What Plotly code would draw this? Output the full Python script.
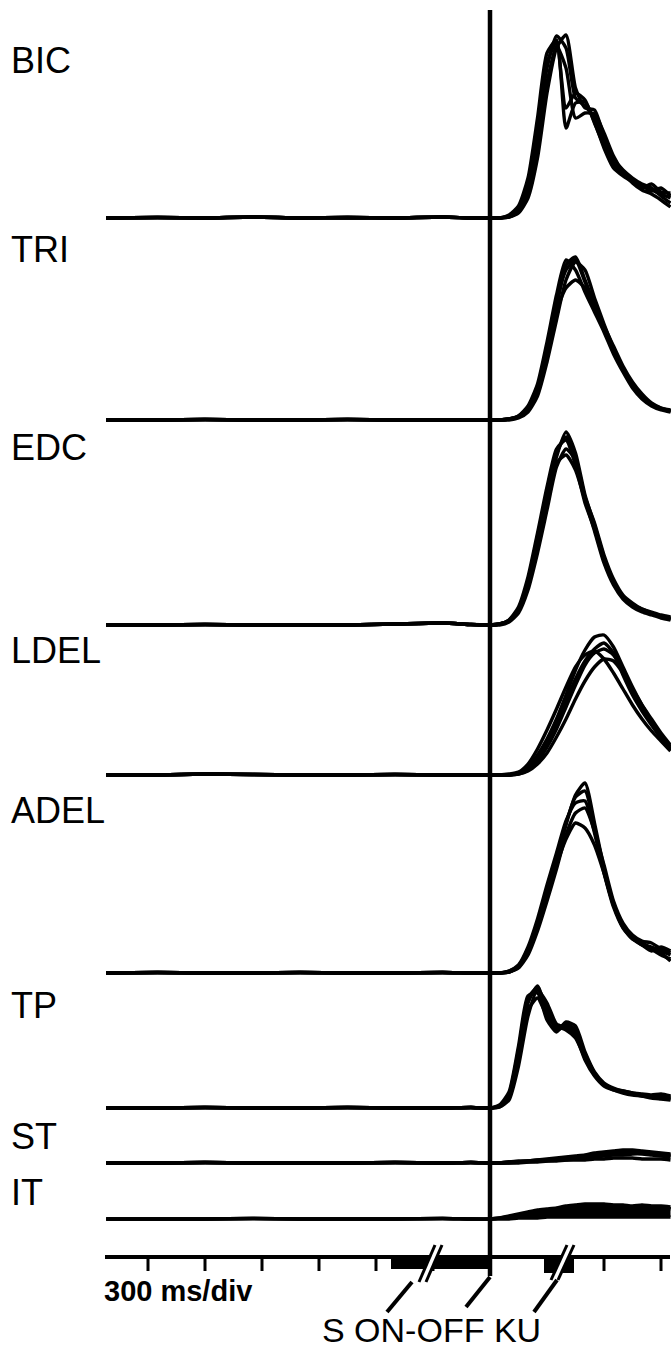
import plotly.graph_objects as go

# ---------------- data ----------------
muscles = ["BIC", "TRI", "EDC", "LDEL", "ADEL", "TP", "ST", "IT"]

# time samples (ms, 0 = ON-OFF)
pre_ms = [-2020, -1750, -1500, -1250, -1000, -750, -500, -250, -100]
post_ms = [0, 50, 100, 150, 200, 250, 300, 350, 400, 450,
           500, 550, 600, 650, 700, 750, 800, 850, 900, 950]

# rectified EMG envelopes (arbitrary units), several superimposed trials
bic_pre = [0, 0.5, 0, 1, 0, 0.5, 0, 1, 0]
bic_trials = [
    [0, 0, 2, 8, 30, 85, 150, 182, 170, 120, 112, 100, 75, 55, 45, 38, 33, 28, 24, 20],
    [0, 0, 1, 5, 20, 60, 125, 170, 183, 130, 110, 108, 82, 60, 48, 40, 34, 30, 22, 15],
    [0, 0, 3, 12, 40, 100, 165, 178, 90, 115, 116, 96, 70, 50, 42, 36, 30, 34, 26, 25],
    [0, 0, 1, 6, 24, 70, 135, 172, 150, 100, 105, 104, 85, 62, 46, 35, 28, 24, 18, 11],
    [0, 0, 2, 9, 32, 90, 155, 176, 110, 125, 118, 95, 72, 52, 44, 38, 32, 27, 30, 22],
]
tri_pre = [0, 0, 0.5, 0, 0, 0.5, 0, 0, 0]
tri_trials = [
    [0, 0, 1, 3, 10, 28, 65, 112, 155, 163, 140, 115, 92, 70, 50, 34, 22, 15, 11, 9],
    [0, 0, 1, 4, 14, 36, 78, 125, 160, 150, 128, 108, 88, 66, 48, 32, 21, 14, 10, 8],
    [0, 0, 0, 2, 8, 24, 58, 100, 140, 158, 150, 122, 96, 72, 52, 36, 24, 16, 12, 10],
    [0, 0, 1, 3, 11, 30, 68, 108, 132, 140, 132, 112, 92, 70, 50, 34, 22, 15, 11, 9],
    [0, 0, 1, 4, 12, 32, 72, 118, 150, 160, 138, 116, 94, 74, 54, 38, 26, 17, 12, 9],
]
edc_pre = [0, 0, 0.5, 0, 0, 0, 1, 2, 0.5]
edc_trials = [
    [0, 1, 4, 15, 40, 80, 125, 168, 193, 172, 130, 100, 68, 44, 28, 20, 15, 12, 8, 6],
    [0, 1, 5, 18, 48, 92, 138, 176, 185, 160, 122, 96, 64, 42, 27, 19, 14, 11, 8, 6],
    [0, 0, 3, 12, 35, 72, 115, 158, 176, 165, 128, 102, 70, 46, 30, 22, 16, 13, 10, 8],
    [0, 1, 4, 14, 42, 85, 130, 162, 170, 155, 125, 98, 66, 43, 28, 20, 16, 12, 9, 7],
    [0, 1, 5, 16, 44, 88, 134, 172, 188, 168, 126, 94, 62, 40, 26, 18, 13, 10, 7, 5],
]
ldel_pre = [0, 0, 1, 0.5, 0, 0, 0.5, 0, 0]
ldel_trials = [
    [0, 0, 0, 2, 8, 20, 36, 56, 80, 105, 125, 138, 140, 128, 108, 88, 70, 54, 40, 28],
    [0, 0, 0, 1, 5, 14, 28, 46, 68, 90, 110, 122, 126, 120, 104, 86, 68, 52, 38, 26],
    [0, 0, 1, 3, 11, 26, 45, 66, 88, 108, 120, 124, 116, 102, 86, 70, 56, 44, 34, 24],
    [0, 0, 0, 1, 4, 11, 22, 38, 56, 76, 94, 108, 116, 114, 102, 86, 70, 56, 42, 30],
    [0, 0, 0, 2, 7, 18, 33, 52, 74, 96, 114, 126, 132, 122, 100, 80, 64, 50, 37, 26],
]
adel_pre = [0, 0.5, 0, 0, 0.5, 0, 0, 0.5, 0]
adel_trials = [
    [0, 0, 1, 6, 22, 48, 80, 112, 148, 178, 190, 150, 105, 70, 48, 36, 28, 26, 22, 18],
    [0, 0, 2, 8, 26, 54, 88, 120, 152, 170, 172, 140, 100, 66, 45, 34, 30, 24, 18, 14],
    [0, 0, 1, 5, 18, 42, 72, 104, 138, 160, 165, 142, 108, 72, 50, 38, 32, 30, 24, 20],
    [0, 0, 1, 6, 20, 46, 78, 108, 134, 150, 145, 128, 100, 68, 46, 34, 28, 22, 26, 22],
    [0, 0, 2, 7, 24, 50, 84, 116, 150, 176, 182, 146, 102, 68, 46, 35, 30, 25, 20, 12],
]
tp_pre = [0, 0, 0.5, 0, 0, 0.5, 0, 0, 0.5]
tp_trials = [
    [0, 2, 12, 55, 105, 122, 95, 80, 84, 78, 52, 34, 24, 19, 16, 14, 13, 12, 11, 10],
    [0, 1, 8, 42, 92, 118, 105, 84, 80, 72, 48, 32, 22, 18, 15, 13, 12, 10, 9, 8],
    [0, 3, 16, 62, 112, 115, 88, 76, 86, 82, 56, 36, 25, 20, 17, 15, 14, 13, 14, 12],
    [0, 1, 10, 48, 98, 110, 92, 82, 78, 70, 50, 33, 23, 18, 16, 14, 12, 11, 10, 9],
    [0, 2, 14, 58, 110, 120, 100, 78, 82, 76, 54, 35, 24, 19, 17, 15, 13, 12, 12, 11],
]
st_pre = [0, 0, 0.5, 0, 0, 0, 0.5, 0, 0.5]
st_trials = [
    [0, 0, 1, 1, 2, 3, 3, 4, 5, 6, 7, 8, 10, 11, 12, 12, 11, 10, 9, 8],
    [0, 0, 0, 1, 1, 2, 2, 3, 3, 4, 5, 6, 7, 8, 8, 9, 9, 8, 7, 6],
    [0, 0, 1, 2, 2, 3, 4, 5, 6, 7, 8, 10, 11, 12, 13, 13, 12, 11, 10, 9],
    [0, 0, 0, 0, 1, 1, 2, 2, 3, 3, 3, 4, 4, 5, 5, 5, 4, 4, 4, 3],
    [0, 0, 1, 1, 2, 2, 3, 3, 4, 5, 6, 7, 8, 9, 10, 10, 10, 9, 8, 7],
]
it_pre = [0, 0, 0, 0.5, 0, 0, 0, 0.5, 0]
it_trials = [
    [0, 0, 0, 1, 1, 1, 2, 2, 2, 2, 2, 2, 2, 2, 2, 2, 2, 2, 2, 2],
    [0, 1, 3, 5, 7, 9, 10, 11, 13, 14, 15, 15, 15, 14, 14, 13, 14, 13, 13, 12],
    [0, 1, 2, 4, 5, 7, 8, 9, 10, 11, 12, 12, 12, 11, 12, 11, 11, 10, 11, 10],
]

pre_values = [bic_pre, tri_pre, edc_pre, ldel_pre, adel_pre, tp_pre, st_pre, it_pre]
trial_values = [bic_trials, tri_trials, edc_trials, ldel_trials, adel_trials,
                tp_trials, st_trials, it_trials]

tick_ms = [-1800, -1500, -1200, -900, -600, -300, 0, 300, 600, 900]
event_text = "S ON-OFF KU"
scale_text = "300 ms/div"

# ---------------- layout (pixel geometry of the panel) ----------------
W, H = 671, 1351
ZERO_PX = 490.0          # x pixel of the ON-OFF line
PX_PER_DIV = 57.0        # 300 ms per division
MS_PER_DIV = 300.0


def xms(px):
    return (px - ZERO_PX) * MS_PER_DIV / PX_PER_DIV


def yv(py):
    return H - py


baseline_py = [218, 420, 625, 775, 973, 1108, 1163, 1219]
label_py = [60, 249, 447, 650, 810, 1005, 1136, 1192]
AXIS_PY = 1257
FONT = "Liberation Sans, Arial, Helvetica, sans-serif"

fig = go.Figure()

x_all = pre_ms + post_ms
for m, pre, trials, base in zip(muscles, pre_values, trial_values, baseline_py):
    off = yv(base)
    for k, tr in enumerate(trials):
        ys = [off + v for v in pre + tr]
        fill = "tonexty" if (m == "IT" and k > 0) else None
        fig.add_trace(go.Scatter(
            x=x_all, y=ys, mode="lines",
            line=dict(color="black", width=3.4, shape="spline", smoothing=0.6),
            fill=fill, fillcolor="black",
            hoverinfo="skip", showlegend=False, name=m))

shapes = []
# time axis
shapes.append(dict(type="line", x0=xms(105), x1=xms(670), y0=yv(AXIS_PY), y1=yv(AXIS_PY),
                   line=dict(color="black", width=4)))
for t in tick_ms:
    shapes.append(dict(type="line", x0=t, x1=t, y0=yv(AXIS_PY), y1=yv(AXIS_PY + 14),
                       line=dict(color="black", width=3)))
# event bars under the axis
shapes.append(dict(type="rect", x0=xms(391), x1=0, y0=yv(AXIS_PY), y1=yv(AXIS_PY + 12),
                   fillcolor="black", line=dict(width=0)))
shapes.append(dict(type="rect", x0=xms(544), x1=xms(574), y0=yv(AXIS_PY), y1=yv(AXIS_PY + 16),
                   fillcolor="black", line=dict(width=0)))
# ON-OFF vertical line
shapes.append(dict(type="line", x0=0, x1=0, y0=yv(10), y1=yv(1276),
                   line=dict(color="black", width=4.5)))
# axis breaks (//)
for (bx, by0, by1) in [(420, 1282, 1245), (552, 1280, 1245)]:
    dx = 16
    shapes.append(dict(type="line", x0=xms(bx + 3), x1=xms(bx + 3 + dx), y0=yv(by0), y1=yv(by1),
                       line=dict(color="white", width=6)))
    for o in (0, 7):
        shapes.append(dict(type="line", x0=xms(bx - 1 + o), x1=xms(bx - 1 + o + dx),
                           y0=yv(by0), y1=yv(by1), line=dict(color="black", width=3)))
# pointers to the event labels
for (x0, y0, x1, y1) in [(412, 1282, 387, 1312), (490, 1277, 466, 1307), (557, 1280, 534, 1312)]:
    shapes.append(dict(type="line", x0=xms(x0), x1=xms(x1), y0=yv(y0), y1=yv(y1),
                       line=dict(color="black", width=4)))

annotations = []
for m, ly in zip(muscles, label_py):
    annotations.append(dict(x=xms(9), y=yv(ly), text=m, showarrow=False,
                            xanchor="left", yanchor="middle",
                            font=dict(family=FONT, size=36, color="black")))
annotations.append(dict(x=xms(102), y=yv(1291), text="<b>" + scale_text + "</b>", showarrow=False,
                        xanchor="left", yanchor="middle",
                        font=dict(family=FONT, size=29, color="black")))
annotations.append(dict(x=xms(431), y=yv(1351), text=event_text, showarrow=False,
                        xanchor="center", yanchor="bottom",
                        font=dict(family=FONT, size=34, color="black")))

fig.update_layout(
    width=W, height=H, autosize=False,
    margin=dict(l=0, r=0, t=0, b=0, pad=0),
    paper_bgcolor="white", plot_bgcolor="white",
    xaxis=dict(range=[xms(0), xms(W)], visible=False, fixedrange=True),
    yaxis=dict(range=[0, H], visible=False, fixedrange=True),
    shapes=shapes, annotations=annotations, showlegend=False,
)

fig.write_html("out.html", config={"displayModeBar": False},
               post_script="document.body.style.margin='0';")
